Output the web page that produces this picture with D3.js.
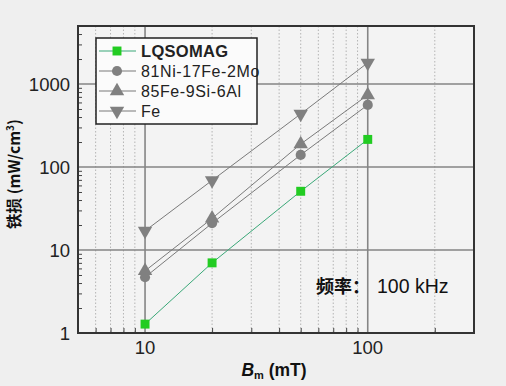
<!DOCTYPE html>
<html>
<head>
<meta charset="utf-8">
<script src="https://cdn.jsdelivr.net/npm/d3@7"></script>
<style>
  body { margin: 0; background: #efefef; }
  svg { display: block; }
</style>
</head>
<body>
<div id="chart"></div>
<script>
// values
const bm = [10, 20, 50, 100];
const lqsomag = [1.28, 7.0, 51, 215];
const niFeMo = [4.7, 21, 140, 560];
const feSiAl = [5.6, 24, 189, 737];
const fe = [17, 69, 436, 1800];

const seriesNames = ["LQSOMAG", "81Ni-17Fe-2Mo", "85Fe-9Si-6Al", "Fe"];
const seriesValues = [lqsomag, niFeMo, feSiAl, fe];
const xTicks = [10, 100];
const yTicks = [1, 10, 100, 1000];

const width = 506, height = 386;
const plotLeft = 78, plotRight = 474, plotTop = 26, plotBottom = 333;

const svg = d3.select("#chart")
  .append("svg")
  .attr("width", width)
  .attr("height", height);

const x = d3.scaleLog().domain([5, 300]).range([plotLeft, plotRight]);
const y = d3.scaleLog().domain([1, 5000]).range([plotBottom, plotTop]);

// plot background
svg.append("rect")
  .attr("x", plotLeft).attr("y", plotTop)
  .attr("width", plotRight - plotLeft).attr("height", plotBottom - plotTop)
  .attr("fill", "#f3f3f3");

// minor vertical grid (dotted)
const xMinor = [6, 7, 8, 9, 20, 30, 40, 50, 60, 70, 80, 90, 200];
svg.append("g")
  .selectAll("line")
  .data(xMinor)
  .enter()
  .append("line")
  .attr("x1", d => x(d)).attr("x2", d => x(d))
  .attr("y1", plotTop).attr("y2", plotBottom)
  .attr("stroke", "#b4b4b4")
  .attr("stroke-width", 1)
  .attr("stroke-dasharray", "1.5,2");

// major grid
svg.append("g")
  .selectAll("line")
  .data(xTicks)
  .enter()
  .append("line")
  .attr("x1", d => x(d)).attr("x2", d => x(d))
  .attr("y1", plotTop).attr("y2", plotBottom)
  .attr("stroke", "#858585")
  .attr("stroke-width", 1.6);

svg.append("g")
  .selectAll("line")
  .data(yTicks.slice(1))
  .enter()
  .append("line")
  .attr("x1", plotLeft).attr("x2", plotRight)
  .attr("y1", d => y(d)).attr("y2", d => y(d))
  .attr("stroke", "#858585")
  .attr("stroke-width", 1.6);

// axes with inward ticks
const yMinor = [];
[1, 10, 100, 1000].forEach(dec => {
  for (let k = 2; k <= 9; k++) if (dec * k <= 5000) yMinor.push(dec * k);
});

const yAxis = svg.append("g")
  .attr("transform", `translate(${plotLeft},0)`)
  .call(d3.axisRight(y).tickValues(yMinor).tickSize(4).tickFormat(""));
yAxis.select(".domain").remove();
yAxis.selectAll("line").attr("stroke", "#444");

const xAxis = svg.append("g")
  .attr("transform", `translate(0,${plotBottom})`)
  .call(d3.axisTop(x).tickValues(xMinor).tickSize(5).tickFormat(""));
xAxis.select(".domain").remove();
xAxis.selectAll("line").attr("stroke", "#444");

// tick labels
svg.append("g")
  .selectAll("text")
  .data(yTicks)
  .enter()
  .append("text")
  .attr("x", plotLeft - 8)
  .attr("y", d => y(d))
  .attr("dy", "0.36em")
  .attr("text-anchor", "end")
  .attr("font-family", "Liberation Sans, Arial, sans-serif")
  .attr("font-size", 18.5)
  .attr("fill", "#222")
  .text(d => d);

svg.append("g")
  .selectAll("text")
  .data(xTicks)
  .enter()
  .append("text")
  .attr("x", d => x(d))
  .attr("y", plotBottom + 21)
  .attr("text-anchor", "middle")
  .attr("font-family", "Liberation Sans, Arial, sans-serif")
  .attr("font-size", 18.5)
  .attr("fill", "#222")
  .text(d => d);

// frame
svg.append("rect")
  .attr("x", plotLeft).attr("y", plotTop)
  .attr("width", plotRight - plotLeft).attr("height", plotBottom - plotTop)
  .attr("fill", "none")
  .attr("stroke", "#333")
  .attr("stroke-width", 2);

// series
const lineColors = ["#3aa878", "#7a7a7a", "#7a7a7a", "#7a7a7a"];
const markerColors = ["#22cc22", "#808080", "#808080", "#808080"];
const markerTypes = [d3.symbolSquare, d3.symbolCircle, d3.symbolTriangle, d3.symbolTriangle];
const markerSizes = [80, 80, 90, 90];
const markerRot = [0, 0, 0, 180];

const line = d3.line()
  .x(d => x(d[0]))
  .y(d => y(d[1]));

seriesValues.forEach((vals, i) => {
  const pts = bm.map((b, j) => [b, vals[j]]);
  svg.append("path")
    .datum(pts)
    .attr("d", line)
    .attr("fill", "none")
    .attr("stroke", lineColors[i])
    .attr("stroke-width", 1);
});

seriesValues.forEach((vals, i) => {
  const pts = bm.map((b, j) => [b, vals[j]]);
  svg.append("g")
    .selectAll("path")
    .data(pts)
    .enter()
    .append("path")
    .attr("d", d3.symbol().type(markerTypes[i]).size(markerSizes[i]))
    .attr("transform", d => `translate(${x(d[0])},${y(d[1])}) rotate(${markerRot[i]})`)
    .attr("fill", markerColors[i]);
});

// legend
const legend = svg.append("g")
  .attr("transform", "translate(96,38)");

legend.append("rect")
  .attr("width", 161)
  .attr("height", 86)
  .attr("fill", "#fbfbfb")
  .attr("stroke", "#222")
  .attr("stroke-width", 1.5);

const legendItem = legend.selectAll(".legend-item")
  .data(seriesNames)
  .enter()
  .append("g")
  .attr("class", "legend-item")
  .attr("transform", (d, i) => `translate(0, ${13 + i * 20})`);

legendItem.append("line")
  .attr("x1", 3).attr("x2", 40)
  .attr("stroke", (d, i) => lineColors[i])
  .attr("stroke-width", 1.2);

legendItem.append("path")
  .attr("d", (d, i) => d3.symbol().type(markerTypes[i]).size(markerSizes[i])())
  .attr("transform", (d, i) => `translate(21,0) rotate(${markerRot[i]})`)
  .attr("fill", (d, i) => markerColors[i]);

legendItem.append("text")
  .attr("x", 45)
  .attr("dy", "0.36em")
  .attr("font-family", "Liberation Sans, Arial, sans-serif")
  .attr("font-size", (d, i) => i === 0 ? 16.5 : 16)
  .attr("letter-spacing", (d, i) => i === 0 ? 0.3 : 0.6)
  .attr("font-weight", (d, i) => i === 0 ? "bold" : "normal")
  .attr("fill", "#222")
  .text(d => d);

// annotation
const note = svg.append("text")
  .attr("x", 316)
  .attr("y", 293)
  .attr("font-size", 18)
  .attr("fill", "#111");
note.append("tspan")
  .attr("font-family", "Noto Sans CJK SC, sans-serif")
  .attr("font-weight", "bold")
  .text("频率：");
note.append("tspan")
  .attr("x", 377)
  .attr("font-family", "Liberation Sans, Arial, sans-serif")
  .attr("font-size", 19.5)
  .text("100 kHz");

// axis titles
const xTitle = svg.append("text")
  .attr("x", 274)
  .attr("y", 376)
  .attr("text-anchor", "middle")
  .attr("font-family", "Liberation Sans, Arial, sans-serif")
  .attr("font-weight", "bold")
  .attr("font-size", 17.5)
  .attr("fill", "#111");
xTitle.append("tspan").attr("font-style", "italic").text("B");
xTitle.append("tspan").attr("font-size", 11).attr("dy", 3).text("m");
xTitle.append("tspan").attr("dy", -3).text(" (mT)");

const yTitle = svg.append("text")
  .attr("transform", "translate(20,174) rotate(-90)")
  .attr("text-anchor", "middle")
  .attr("font-family", "Noto Sans CJK SC, sans-serif")
  .attr("font-weight", "bold")
  .attr("font-size", 15.5)
  .attr("fill", "#111");
yTitle.append("tspan").text("铁损 (mW/cm");
yTitle.append("tspan").attr("font-size", 10).attr("dy", -6).text("3");
yTitle.append("tspan").attr("dy", 6).text(")");
</script>
</body>
</html>
